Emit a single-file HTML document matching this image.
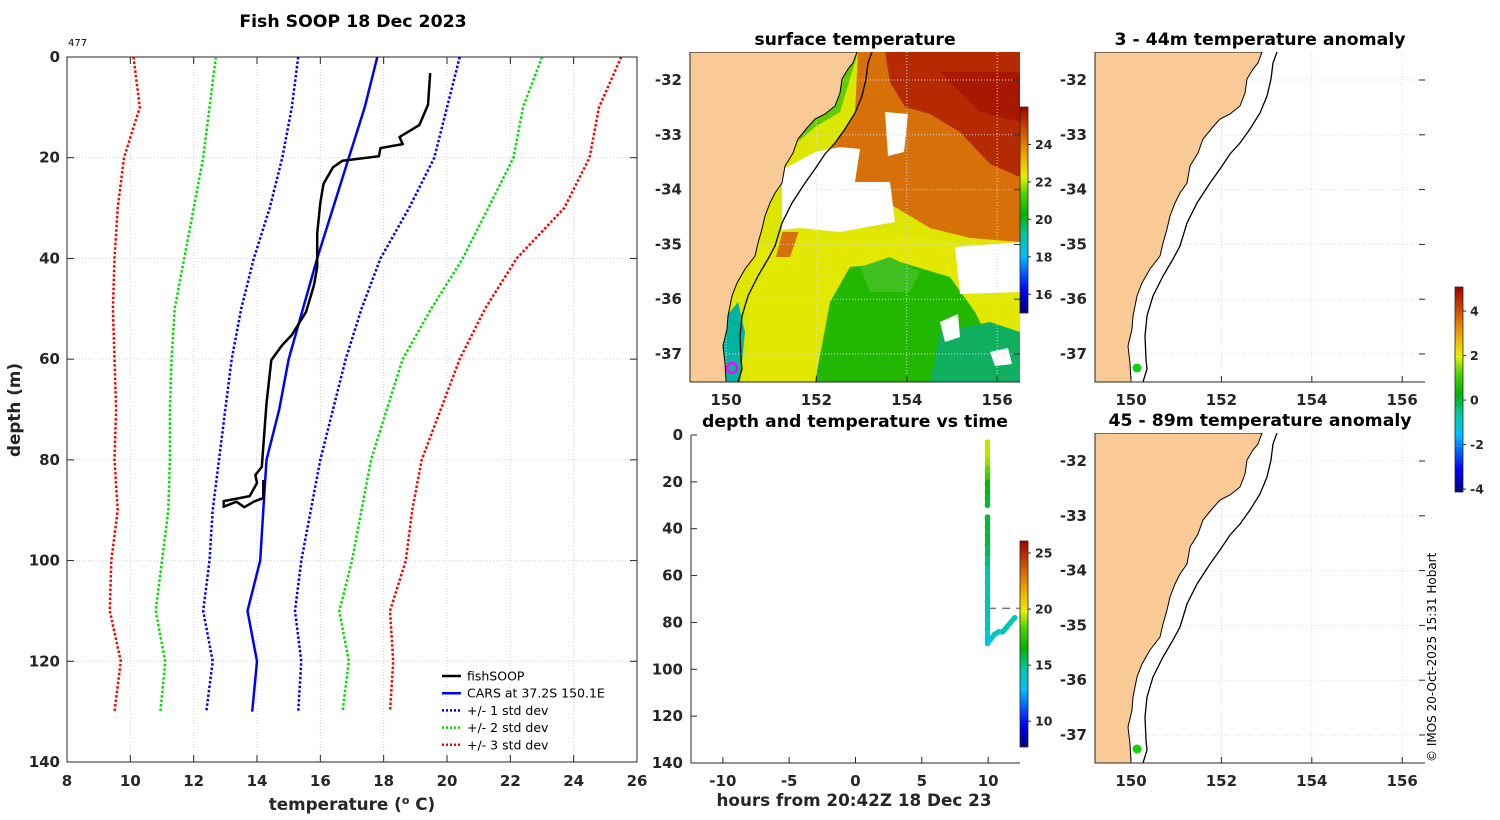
<!DOCTYPE html>
<html><head><meta charset="utf-8"><style>
body{margin:0;background:#fff}
svg{display:block;font-family:"DejaVu Sans","Liberation Sans",sans-serif}
.tk{font-size:15px;font-weight:bold;fill:#262626}
.ttl{font-size:17.3px;font-weight:bold;fill:#000}
.lab{font-size:16.8px;font-weight:bold;fill:#262626}
</style></head><body>
<svg id="s" width="1500" height="820" viewBox="0 0 1500 820">
<defs>
<linearGradient id="cm" x1="0" y1="1" x2="0" y2="0">
<stop offset="0" stop-color="#00007f"/><stop offset="0.11" stop-color="#0000ff"/><stop offset="0.28" stop-color="#00c0ff"/><stop offset="0.38" stop-color="#00c8a0"/><stop offset="0.48" stop-color="#00b400"/><stop offset="0.58" stop-color="#50d400"/><stop offset="0.66" stop-color="#e6f000"/><stop offset="0.75" stop-color="#f0b000"/><stop offset="0.86" stop-color="#d86000"/><stop offset="1" stop-color="#a00000"/>
</linearGradient>
<clipPath id="cp0"><rect x="0" y="0" width="330" height="330"/></clipPath>
<clipPath id="cpMain"><rect x="67" y="57" width="570" height="705"/></clipPath>
</defs>
</svg>
<script>
// ---- main profile chart data ----
const stdDepths=[0,10,20,30,40,50,60,70,80,90,100,110,120,130];
const carsT=[17.8,17.4,16.9,16.4,15.9,15.45,15.0,14.7,14.3,14.2,14.1,13.7,14.0,13.85];
const minus1=[15.3,15.1,14.8,14.4,13.9,13.5,13.2,13.0,12.8,12.6,12.5,12.3,12.6,12.4];
const plus1=[20.4,20.0,19.6,18.8,17.9,17.3,16.8,16.4,16.0,15.7,15.4,15.2,15.4,15.3];
const minus2=[12.7,12.5,12.3,12.0,11.7,11.4,11.3,11.25,11.25,11.2,11.0,10.8,11.1,10.95];
const plus2=[23.0,22.4,22.1,21.3,20.5,19.5,18.6,18.1,17.6,17.3,17.0,16.6,16.9,16.7];
const minus3=[10.1,10.3,9.8,9.6,9.5,9.45,9.5,9.55,9.5,9.6,9.4,9.35,9.7,9.5];
const plus3=[25.5,24.8,24.5,23.7,22.2,21.2,20.4,19.8,19.2,18.9,18.7,18.2,18.3,18.2];
const fishT=[19.47,19.4,19.13,18.5,18.6,17.9,17.85,16.7,16.4,16.1,16.0,15.9,15.9,15.8,15.55,15.1,14.8,14.45,14.3,14.15,13.95,14.0,13.77,12.95,12.95,13.35,13.6,13.9,14.2,14.2];
const fishD=[3.2,9.5,13.5,15.9,17.3,18.1,19.7,20.6,21.9,25.2,29,35,41.7,45.3,50.6,55.2,57.2,60.2,68.8,81.4,83,84.6,87.2,88.2,89.3,88.3,89.4,88.3,87.6,84];
const xTicks=[8,10,12,14,16,18,20,22,24,26];
const yTicks=[0,20,40,60,80,100,120,140];
// ---- depth vs time data ----
const dtHours=[9.95,9.95,9.95,9.95,9.95,9.95,9.95,9.95,9.95,9.95,9.95,9.95,9.95,9.95,9.95,9.95,9.95,9.95,9.95,9.95,9.95,9.95,9.95,9.95,9.95,10.2,10.5,10.8,11.1,11.4,11.7,12.0];
const dtDepths=[3,6,9,12,15,18,21,24,27,30,35,39,43,47,51,55,59,63,67,71,75,79,83,87,89,87,85,84,84,82,80,78];
const dtTemps=[19.4,19.4,19.35,19.1,18.5,17.9,16.7,16.2,16.0,16.0,15.95,15.9,15.85,15.8,15.5,15.2,14.5,14.35,14.3,14.25,14.2,14.15,14.0,13.3,13.0,13.8,14.1,14.2,14.2,14.3,14.3,14.3];
const dtXTicks=[-10,-5,0,5,10];
const dtYTicks=[0,20,40,60,80,100,120,140];
const lonTicks=[150,152,154,156];
const latTicks=[-32,-33,-34,-35,-36,-37];

const S=document.getElementById('s');
const NS='http://www.w3.org/2000/svg';
function mk(tag,at,parent,txt){const e=document.createElementNS(NS,tag);for(const k in at)e.setAttribute(k,at[k]);if(txt!==undefined)e.textContent=txt;(parent||S).appendChild(e);return e;}

const stops=[[0,[0,0,127]],[0.11,[0,0,255]],[0.28,[0,192,255]],[0.38,[0,200,160]],[0.48,[0,180,0]],[0.58,[80,212,0]],[0.66,[230,240,0]],[0.75,[240,176,0]],[0.86,[216,96,0]],[1,[160,0,0]]];
function cmap(f){f=Math.max(0,Math.min(1,f));for(let i=1;i<stops.length;i++){if(f<=stops[i][0]){const a=stops[i-1],b=stops[i];const t=(f-a[0])/(b[0]-a[0]);const c=a[1].map((v,j)=>Math.round(v+(b[1][j]-v)*t));return 'rgb('+c.join(',')+')';}}return 'rgb(160,0,0)';}

// ===== MAIN CHART =====
const X0=67,X1=637,Y0=57,Y1=762;
const xs=t=>X0+(t-8)/(26-8)*(X1-X0);
const ys=d=>Y0+d/140*(Y1-Y0);
const gMain=mk('g',{});


xTicks.forEach(t=>{
  if(t>8&&t<26){const l=mk('line',{x1:xs(t),x2:xs(t),y1:Y0,y2:Y1,stroke:'#c9d2ea','stroke-width':1,'stroke-dasharray':'1 2'},gMain);
  }
  mk('line',{x1:xs(t),x2:xs(t),y1:Y1,y2:Y1-7,stroke:'#262626'},gMain);
  mk('line',{x1:xs(t),x2:xs(t),y1:Y0,y2:Y0+7,stroke:'#262626'},gMain);
  const tx=mk('text',{x:xs(t),y:Y1+24,'text-anchor':'middle',class:'tk'},gMain,t);
  
});
yTicks.forEach(d=>{
  if(d>0&&d<140){const l=mk('line',{x1:X0,x2:X1,y1:ys(d),y2:ys(d),stroke:'#c9d2ea','stroke-width':1,'stroke-dasharray':'1 2'},gMain);
  }
  mk('line',{x1:X0,x2:X0+7,y1:ys(d),y2:ys(d),stroke:'#262626'},gMain);
  mk('line',{x1:X1,x2:X1-7,y1:ys(d),y2:ys(d),stroke:'#262626'},gMain);
  const tx=mk('text',{x:X0-7,y:ys(d)+5,'text-anchor':'end',class:'tk'},gMain,d);
  
});
mk('rect',{x:X0,y:Y0,width:X1-X0,height:Y1-Y0,fill:'none',stroke:'#262626','stroke-width':1},gMain);
function prof(T,D,color,dash,w,name){
  const p=T.map((t,i)=>(i?'L':'M')+xs(t).toFixed(1)+','+ys(D[i]).toFixed(1)).join('');
  const e=mk('path',{d:p,fill:'none',stroke:color,'stroke-width':w,'stroke-dasharray':dash||'none','clip-path':'url(#cpMain)','stroke-linejoin':'round'},gMain);
  
}
prof(minus3,stdDepths,'#ff0000','2.5 2',2.5,'minus-3-std-line');
prof(plus3,stdDepths,'#ff0000','2.5 2',2.5,'plus-3-std-line');
prof(minus2,stdDepths,'#00e000','2.5 2',2.5,'minus-2-std-line');
prof(plus2,stdDepths,'#00e000','2.5 2',2.5,'plus-2-std-line');
prof(minus1,stdDepths,'#0000ff','2.5 2',2.5,'minus-1-std-line');
prof(plus1,stdDepths,'#0000ff','2.5 2',2.5,'plus-1-std-line');
prof(carsT,stdDepths,'#0000ff',null,2.5,'cars-line');
prof(fishT,fishD,'#000000',null,2.5,'fishsoop-line');
let t=mk('text',{x:353,y:27,'text-anchor':'middle',class:'ttl'},S,'Fish SOOP 18 Dec 2023');

t=mk('text',{x:68,y:46,'font-size':'10','fill':'#000'},S,'477');

t=mk('text',{x:20,y:410,'text-anchor':'middle',class:'lab',transform:'rotate(-90 20 410)'},S,'depth (m)');

t=mk('text',{x:352,y:810,'text-anchor':'middle',class:'lab'},S);
t.innerHTML='temperature (<tspan dy="-6" font-size="11">o</tspan><tspan dy="6"> C)</tspan>';

const leg=[['fishSOOP','#000',null],['CARS at 37.2S 150.1E','#00f',null],['+/- 1 std dev','#00f','2 2'],['+/- 2 std dev','#00e000','2 2'],['+/- 3 std dev','#f00','2 2']];
const gL=mk('g',{});
leg.forEach((l,i)=>{const y=676+i*17.2;
  const g=mk('g',{},gL);
  mk('line',{x1:442,x2:461,y1:y,y2:y,stroke:l[1],'stroke-width':2.5,'stroke-dasharray':l[2]||'none'},g);
  mk('text',{x:467,y:y+4.5,'font-size':'12.5',fill:'#000'},g,l[0]);});

// ===== MAPS =====
const coast=[[167,0],[163,11],[158,17],[152,27],[150,41],[145,54],[135,62],[125,67],[117,76],[108,87],[103,101],[95,114],[92,131],[85,141],[80,151],[75,164],[72,177],[68,191],[65,204],[55,217],[47,231],[42,244],[38,264],[37,277],[33,294],[35,311],[36,330]];
const shelf=[[182,0],[178,11],[176,27],[172,44],[165,61],[155,77],[145,91],[135,102],[125,117],[115,131],[102,151],[92,171],[85,194],[78,207],[68,224],[58,244],[52,264],[50,284],[51,307],[52,317],[48,330]];
const pts=a=>a.map(p=>p.join(',')).join(' ');
function map(ox,oy,name,title,sst){
  const g=mk('g',{transform:`translate(${ox},${oy})`});
  
  const inner=mk('g',{'clip-path':'url(#cp0)'},g);
  if(sst){
    mk('rect',{x:0,y:0,width:330,height:330,fill:'#dce600'},inner);
    mk('polygon',{points:'60,200 130,170 200,180 330,200 330,330 60,330',fill:'#e2e800'},inner);
    mk('polygon',{points:'168,0 182,0 330,0 330,190 280,186 240,176 200,152 160,136 130,150 110,176 100,205 86,205 95,170 105,140 125,117 145,91 165,61',fill:'#d8700a'},inner);
    mk('polygon',{points:'195,0 330,0 330,125 300,112 270,80 240,62 215,55 200,30',fill:'#b52a00'},inner);
    mk('polygon',{points:'250,20 330,20 330,70 290,60',fill:'#a81800'},inner);
    mk('polygon',{points:'140,250 160,215 210,210 260,225 285,260 300,290 330,285 330,330 125,330',fill:'#22b800'},inner);
    mk('polygon',{points:'250,280 300,270 330,280 330,330 240,330',fill:'#10b060'},inner);
    mk('polygon',{points:'170,215 200,205 230,220 220,240 180,240',fill:'#40c020'},inner);
    mk('polygon',{points:'32,270 48,250 55,280 50,330 32,330',fill:'#00b4a0'},inner);
    mk('polygon',{points:'150,0 168,0 150,60 125,75 108,90',fill:'#60cc00'},inner);
    mk('polygon',{points:'95,140 110,140 110,180 92,180',fill:'#dce600'},inner);
    mk('polygon',{points:'92,118 125,100 150,95 170,97 165,130 200,130 205,170 150,180 110,176 92,178',fill:'#fff'},inner);
    mk('polygon',{points:'265,195 330,190 330,240 270,242',fill:'#fff'},inner);
    mk('polygon',{points:'195,60 218,62 214,100 198,104',fill:'#fff'},inner);
    mk('polygon',{points:'250,270 268,262 270,285 255,290',fill:'#fff'},inner);
    mk('polygon',{points:'300,300 318,296 322,312 305,314',fill:'#fff'},inner);
  }
  lonTicks.forEach(l=>{const x=36+(l-150)*45.2;
    mk('line',{x1:x,x2:x,y1:0,y2:330,stroke:'#d4dbef','stroke-dasharray':'1 2'},inner);
    mk('line',{x1:x,x2:x,y1:330,y2:324,stroke:'#262626'},g);
    const tx=mk('text',{x:x,y:353,'text-anchor':'middle',class:'tk'},g,l);
    });
  latTicks.forEach(l=>{const y=28+(-32-l)*54.8;
    mk('line',{x1:0,x2:330,y1:y,y2:y,stroke:'#d4dbef','stroke-dasharray':'1 2'},inner);
    mk('line',{x1:330,x2:324,y1:y,y2:y,stroke:'#262626'},g);
    const tx=mk('text',{x:-8,y:y+5,'text-anchor':'end',class:'tk'},g,l);
    });
  const land=mk('polygon',{points:'0,0 '+pts(coast)+' 0,330',fill:'#f9c996',stroke:'#000','stroke-width':1},inner);
  
  const sh=mk('polyline',{points:pts(shelf),fill:'none',stroke:'#000','stroke-width':1.3},inner);
  
  mk('polyline',{points:'0,0 0,330 330,330',fill:'none',stroke:'#262626'},g);
  const tt=mk('text',{x:165,y:-7,'text-anchor':'middle',class:'ttl'},g,title);
  
  return g;
}
const m1=map(690,52,'sst-map','surface temperature',true);
let c=mk('circle',{cx:42,cy:316,r:5,fill:'none',stroke:'#ff00ff','stroke-width':2.5},m1);

const m2=map(1095,52,'anomaly-map-shallow','3 - 44m temperature anomaly',false);
c=mk('circle',{cx:42,cy:316,r:4.5,fill:'#10d010'},m2);

const m3=map(1095,433,'anomaly-map-deep','45 - 89m temperature anomaly',false);
c=mk('circle',{cx:42,cy:316,r:4.5,fill:'#10d010'},m3);


function cbar(x,y0,y1,vtop,vbot,ticks,name){
  const g=mk('g',{});
  mk('rect',{x:x,y:y0,width:8,height:y1-y0,fill:'url(#cm)',stroke:'#262626','stroke-width':0.8},g);
  ticks.forEach(v=>{const y=y0+(vtop-v)/(vtop-vbot)*(y1-y0);
    mk('line',{x1:x+8,x2:x+11,y1:y,y2:y,stroke:'#262626'},g);
    mk('text',{x:x+15,y:y+4.5,'font-size':'12.5','font-weight':'bold',fill:'#262626'},g,v);});
}
cbar(1020,107,313,26,15,[24,22,20,18,16],'sst-colorbar');
cbar(1455,287,492,5.08,-4.13,[4,2,0,-2,-4],'anomaly-colorbar');
cbar(1020,541,747,26.07,7.7,[25,20,15,10],'temperature-colorbar');

// ===== DEPTH vs TIME =====
const DX0=691,DX1=1020,DY0=435,DY1=763;
const hx=h=>DX0+(h+12.4)/24.8*(DX1-DX0);
const dy=d=>DY0+d/140*(DY1-DY0);
const gD=mk('g',{});
dtXTicks.forEach(h=>{mk('line',{x1:hx(h),x2:hx(h),y1:DY1,y2:DY1-6,stroke:'#262626'},gD);
  const tx=mk('text',{x:hx(h),y:DY1+23,'text-anchor':'middle',class:'tk'},gD,h);
  });
dtYTicks.forEach(d=>{mk('line',{x1:DX0,x2:DX0+6,y1:dy(d),y2:dy(d),stroke:'#262626'},gD);
  const tx=mk('text',{x:DX0-8,y:dy(d)+5,'text-anchor':'end',class:'tk'},gD,d);
  });
mk('polyline',{points:`${DX0},${DY0} ${DX0},${DY1} ${DX1},${DY1}`,fill:'none',stroke:'#262626'},gD);
const dl=mk('line',{x1:hx(10),x2:DX1,y1:dy(74),y2:dy(74),stroke:'#777','stroke-width':1.5,'stroke-dasharray':'8 6'},gD);

for(let i=1;i<dtHours.length;i++){
  if(Math.abs(dtDepths[i]-dtDepths[i-1])>4)continue;
  const col=cmap((dtTemps[i]-7.7)/(26.07-7.7));
  mk('line',{x1:hx(dtHours[i-1]),y1:dy(dtDepths[i-1]),x2:hx(dtHours[i]),y2:dy(dtDepths[i]),stroke:col,'stroke-width':5,'stroke-linecap':'round'},gD);
}
dtHours.forEach((h,i)=>{
  const p=mk('circle',{cx:hx(h),cy:dy(dtDepths[i]),r:2.8,fill:cmap((dtTemps[i]-7.7)/(26.07-7.7))},gD);
  
});
t=mk('text',{x:855,y:427,'text-anchor':'middle',class:'ttl'},S,'depth and temperature vs time');

t=mk('text',{x:854,y:806,'text-anchor':'middle',class:'lab'},S,'hours from 20:42Z 18 Dec 23');

t=mk('text',{x:1436,y:762,'font-size':'12',fill:'#000',transform:'rotate(-90 1436 762)'},S,'© IMOS 20-Oct-2025 15:31 Hobart');

</script>
</body></html>
